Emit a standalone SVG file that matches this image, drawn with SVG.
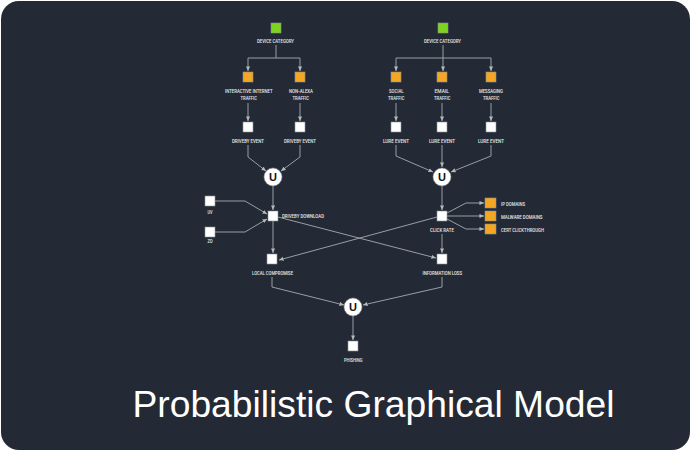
<svg xmlns="http://www.w3.org/2000/svg" width="691" height="452" viewBox="0 0 691 452">
<style>
.bg{fill:#232a35}
.n{fill:#ffffff;stroke:#8a8f96;stroke-width:0.6}
.o{fill:#f5a623;stroke:#8a8f96;stroke-width:0.6}
.g{fill:#7ed321;stroke:#8a8f96;stroke-width:0.6}
.u{fill:#ffffff;stroke:#8a8f96;stroke-width:0.6}
.l{font-family:Roboto,"Liberation Sans",sans-serif;font-size:6px;fill:#e8e8e8;font-weight:500}
.ut{font-family:"Liberation Sans",Arial,sans-serif;font-size:11px;font-weight:bold;fill:#111;text-anchor:middle}
.c path{fill:none;stroke:#a7abb0;stroke-width:0.9;marker-end:url(#ah)}
.title{font-family:"Liberation Sans",Arial,sans-serif;font-size:36.5px;fill:#ffffff}
</style>
<defs>
<marker id="ah" viewBox="0 0 6 6" refX="5.5" refY="3" markerWidth="5" markerHeight="5" orient="auto" markerUnits="userSpaceOnUse">
<path d="M0,0.5 L5.5,3 L0,5.5 z" fill="#b5b8bc"/>
</marker>
</defs>
<rect x="1" y="1" width="689" height="449" rx="18" class="bg"/>

<g class="c" id="connectors">
<path d="M276,45 V58 H248 V71"/>
<path d="M276,58 H300 V71"/>
<path d="M248,103 V121"/>
<path d="M300,103 V121"/>
<path d="M248,145 V157 L266,171"/>
<path d="M300,145 V157 L281,171"/>
<path d="M273,186 V210"/>
<path d="M215,201 H245 L267,214"/>
<path d="M215,232 H245 L267,219"/>
<path d="M273,221 V253"/>
<path d="M278,217 L436,258"/>
<path d="M437,217 L279,260"/>
<path d="M443,45 V58 H396 V71"/>
<path d="M443,58 V71"/>
<path d="M443,58 H491 V71"/>
<path d="M396,103 V121"/>
<path d="M442,103 V121"/>
<path d="M491,103 V121"/>
<path d="M396,145 V156 L433,172"/>
<path d="M442,145 V167"/>
<path d="M491,145 V156 L451,172"/>
<path d="M442,186 V210"/>
<path d="M447,213 L466,203 H484"/>
<path d="M447,216 H484"/>
<path d="M447,219 L466,229 H484"/>
<path d="M442,234 V253"/>
<path d="M272,277 V287 L344,305"/>
<path d="M442,277 V287 L363,305"/>
<path d="M353,316 V340"/>
</g>

<g id="dc-left"><rect class="g" x="271" y="23" width="10" height="10"/><text class="l" x="257" y="43" textLength="37" lengthAdjust="spacingAndGlyphs">DEVICE CATEGORY</text></g>
<g id="interactive"><rect class="o" x="243" y="72" width="10" height="10"/><text class="l" x="225" y="92.5" textLength="47.5" lengthAdjust="spacingAndGlyphs">INTERACTIVE INTERNET</text><text class="l" x="240.5" y="100.2" textLength="16.5" lengthAdjust="spacingAndGlyphs">TRAFFIC</text></g>
<g id="nonalexa"><rect class="o" x="295" y="72" width="10" height="10"/><text class="l" x="289" y="92.5" textLength="24" lengthAdjust="spacingAndGlyphs">NON-ALEXA</text><text class="l" x="292.5" y="100.2" textLength="16.5" lengthAdjust="spacingAndGlyphs">TRAFFIC</text></g>
<g id="drive1"><rect class="n" x="243" y="122" width="10" height="10"/><text class="l" x="232" y="142.5" textLength="32" lengthAdjust="spacingAndGlyphs">DRIVEBY EVENT</text></g>
<g id="drive2"><rect class="n" x="295" y="122" width="10" height="10"/><text class="l" x="284" y="142.5" textLength="32" lengthAdjust="spacingAndGlyphs">DRIVEBY EVENT</text></g>
<g id="u-left"><circle class="u" cx="273" cy="177" r="9"/><text class="ut" x="273" y="181">U</text></g>
<g id="uv"><rect class="n" x="205" y="196" width="10" height="10"/><text class="l" x="207.5" y="214" textLength="5" lengthAdjust="spacingAndGlyphs">UV</text></g>
<g id="zd"><rect class="n" x="205" y="227" width="10" height="10"/><text class="l" x="207.5" y="243" textLength="5" lengthAdjust="spacingAndGlyphs">ZD</text></g>
<g id="dd"><rect class="n" x="268" y="211" width="10" height="10"/><text class="l" x="282" y="217.5" textLength="42" lengthAdjust="spacingAndGlyphs">DRIVEBY DOWNLOAD</text></g>
<g id="lc"><rect class="n" x="267" y="254" width="10" height="10"/><text class="l" x="252" y="275" textLength="41" lengthAdjust="spacingAndGlyphs">LOCAL COMPROMISE</text></g>

<g id="dc-right"><rect class="g" x="438" y="23" width="10" height="10"/><text class="l" x="424" y="43" textLength="37" lengthAdjust="spacingAndGlyphs">DEVICE CATEGORY</text></g>
<g id="social"><rect class="o" x="391" y="72" width="10" height="10"/><text class="l" x="389" y="92.5" textLength="14.5" lengthAdjust="spacingAndGlyphs">SOCIAL</text><text class="l" x="388" y="100.2" textLength="16.5" lengthAdjust="spacingAndGlyphs">TRAFFIC</text></g>
<g id="email"><rect class="o" x="437" y="72" width="10" height="10"/><text class="l" x="434.5" y="92.5" textLength="14.5" lengthAdjust="spacingAndGlyphs">EMAIL</text><text class="l" x="434" y="100.2" textLength="16.5" lengthAdjust="spacingAndGlyphs">TRAFFIC</text></g>
<g id="messaging"><rect class="o" x="486" y="72" width="10" height="10"/><text class="l" x="479" y="92.5" textLength="24" lengthAdjust="spacingAndGlyphs">MESSAGING</text><text class="l" x="483" y="100.2" textLength="16.5" lengthAdjust="spacingAndGlyphs">TRAFFIC</text></g>
<g id="lure1"><rect class="n" x="391" y="122" width="10" height="10"/><text class="l" x="383" y="142.5" textLength="26" lengthAdjust="spacingAndGlyphs">LURE EVENT</text></g>
<g id="lure2"><rect class="n" x="437" y="122" width="10" height="10"/><text class="l" x="429" y="142.5" textLength="26" lengthAdjust="spacingAndGlyphs">LURE EVENT</text></g>
<g id="lure3"><rect class="n" x="486" y="122" width="10" height="10"/><text class="l" x="478" y="142.5" textLength="26" lengthAdjust="spacingAndGlyphs">LURE EVENT</text></g>
<g id="u-right"><circle class="u" cx="442" cy="177" r="9"/><text class="ut" x="442" y="181">U</text></g>
<g id="click"><rect class="n" x="437" y="211" width="10" height="10"/><text class="l" x="430" y="231.5" textLength="24" lengthAdjust="spacingAndGlyphs">CLICK RATE</text></g>
<g id="ipdomains"><rect class="o" x="485" y="198" width="11" height="10"/><text class="l" x="501" y="205.5" textLength="24" lengthAdjust="spacingAndGlyphs">IP DOMAINS</text></g>
<g id="malware"><rect class="o" x="485" y="211" width="11" height="10"/><text class="l" x="501" y="218.5" textLength="41.5" lengthAdjust="spacingAndGlyphs">MALWARE DOMAINS</text></g>
<g id="cert"><rect class="o" x="485" y="224" width="11" height="10"/><text class="l" x="501" y="231.5" textLength="43" lengthAdjust="spacingAndGlyphs">CERT CLICKTHROUGH</text></g>
<g id="infoloss"><rect class="n" x="437" y="254" width="10" height="10"/><text class="l" x="422.5" y="274.5" textLength="39.5" lengthAdjust="spacingAndGlyphs">INFORMATION LOSS</text></g>

<g id="u-bottom"><circle class="u" cx="353" cy="307" r="9"/><text class="ut" x="353" y="311">U</text></g>
<g id="phishing"><rect class="n" x="348" y="341" width="10" height="10"/><text class="l" x="344" y="361.5" textLength="18.5" lengthAdjust="spacingAndGlyphs">PHISHING</text></g>

<text class="title" x="132.5" y="417" textLength="482" lengthAdjust="spacingAndGlyphs">Probabilistic Graphical Model</text>
</svg>
